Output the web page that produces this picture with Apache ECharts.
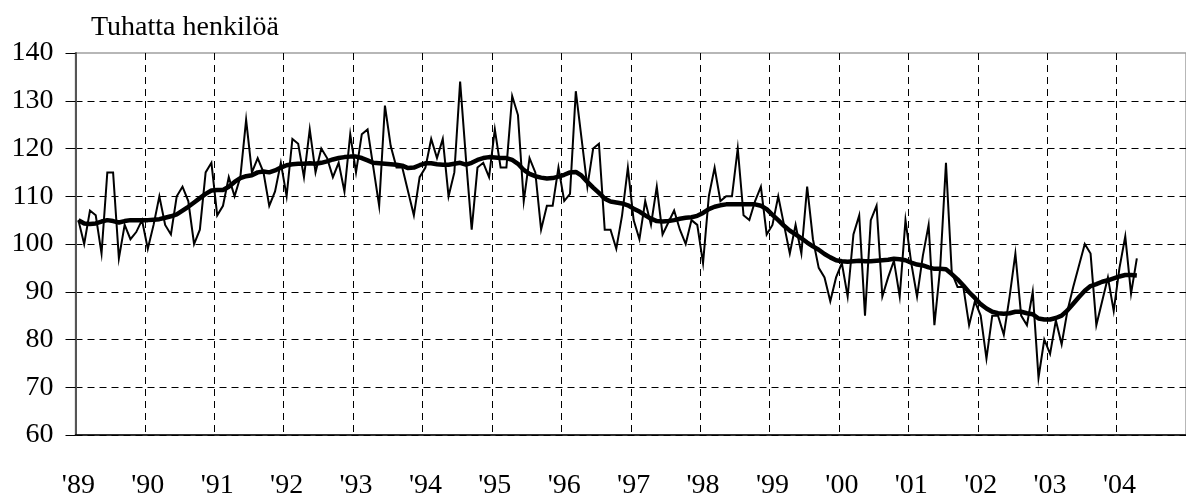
<!DOCTYPE html>
<html>
<head>
<meta charset="utf-8">
<script src="https://cdn.jsdelivr.net/npm/echarts@6/dist/echarts.min.js"></script>
<style>
html, body { margin: 0; padding: 0; background: #fff; }
#chart { width: 1186px; height: 500px; }
</style>
</head>
<body>
<div id="chart"></div>
<script>
// year tick labels (one category per month, labels on January)
var years = ["'89", "'90", "'91", "'92", "'93", "'94", "'95", "'96",
             "'97", "'98", "'99", "'00", "'01", "'02", "'03", "'04"];

// monthly figures, 1/1989 - 4/2004 (thousand persons)
var original = [
  105, 100, 107, 106, 98, 115, 115, 97, 104, 101, 102.5, 105,
  99, 104, 110, 104, 102, 110, 112, 109, 100, 103, 115, 117,
  106, 108, 114, 110, 114, 126, 115, 118, 115, 108, 111, 117,
  110, 122, 121, 114, 124, 115, 120, 118, 114, 117, 111, 123,
  115, 123, 124, 116, 108, 129, 120.5, 116, 116, 111, 106, 114,
  116, 122, 118, 122, 110, 115, 134, 118, 103, 116, 117, 114,
  124, 116, 116, 131, 127, 109, 118, 115, 103, 108, 108, 116,
  109, 110.5, 132, 122, 112, 120, 121, 103, 103, 99, 106, 116,
  105, 101, 109, 104, 112, 102, 104.5, 107, 103, 100, 105, 104,
  96, 110, 116, 109, 110, 110, 120, 106, 105, 109, 112, 102,
  104, 110, 104, 98, 104, 98, 112, 101, 95, 93, 88, 93,
  96, 89, 102, 106, 85, 105, 108, 89, 93, 96.5, 89, 105,
  96, 89, 97.5, 104, 83, 95, 117, 94, 91, 91, 83, 88,
  85, 76, 85, 85, 81, 89, 98, 85, 83, 90, 72, 80,
  77, 84, 79, 86, 91, 95.5, 100, 98, 83, 88, 93, 86,
  95, 101.6, 89.6, 97
];

// trend
var trend = [
  105, 104.3, 104.2, 104.3, 104.7, 105, 104.8, 104.5, 104.8, 105, 105, 105,
  105, 105.1, 105.2, 105.5, 105.8, 106.2, 107, 107.8, 108.7, 109.6, 110.5, 111.2,
  111.3, 111.3, 112, 113, 113.8, 114.2, 114.4, 115, 115.2, 115, 115.4, 116,
  116.5, 116.7, 116.8, 116.8, 116.9, 116.8, 117, 117.3, 117.7, 118, 118.2, 118.3,
  118.3, 118, 117.5, 117, 116.9, 116.8, 116.7, 116.6, 116.4, 115.9, 116, 116.5,
  116.9, 116.9, 116.7, 116.6, 116.6, 116.8, 117, 116.6, 117, 117.6, 118, 118.2,
  118.1, 118, 118, 117.6, 116.8, 115.5, 114.7, 114.2, 113.9, 113.7, 113.8, 114.1,
  114.5, 115, 115.1, 114.3, 113, 111.8, 110.7, 109.5, 108.9, 108.7, 108.5, 108.1,
  107.4, 106.8, 106, 105.3, 104.8, 104.7, 104.8, 105, 105.3, 105.5, 105.6, 105.9,
  106.5, 107.3, 107.8, 108.1, 108.3, 108.3, 108.3, 108.3, 108.3, 108.3, 108, 107.3,
  106.1, 105, 103.8, 102.8, 102, 101.2, 100.3, 99.5, 98.8, 97.9, 97.2, 96.6,
  96.4, 96.3, 96.4, 96.5, 96.4, 96.4, 96.5, 96.6, 96.7, 96.9, 96.8, 96.6,
  96.1, 95.7, 95.5, 95.1, 94.8, 94.8, 94.7, 93.7, 92.6, 91.3, 89.9, 88.7,
  87.4, 86.5, 85.8, 85.5, 85.4, 85.5, 85.8, 85.8, 85.5, 85.3, 84.4, 84.2,
  84.2, 84.5, 85, 86.1, 87.5, 88.9, 90.2, 91.2, 91.6, 92.1, 92.4, 92.8,
  93.2, 93.5, 93.5, 93.4
];

var months = [];
years.forEach(function (y) {
  for (var m = 1; m <= 12; m++) months.push(y + '-' + m);
});

var font = "'Liberation Serif', 'Times New Roman', serif";
var dash = [7, 5];

var myChart = echarts.init(document.getElementById('chart'));

var option = {
  animation: false,
  title: {
    text: 'Tuhatta henkilöä',
    left: 86,
    top: 9,
    textStyle: { fontFamily: font, fontSize: 28, fontWeight: 'normal', color: '#000' }
  },
  grid: {
    left: 75.5,
    top: 53,
    width: 1113.5,
    height: 384,
    show: true,
    borderColor: '#a0a0a0',
    borderWidth: 1.5
  },
  xAxis: {
    type: 'category',
    data: months,
    boundaryGap: true,
    axisLine: { lineStyle: { color: '#000', width: 1.5 } },
    axisTick: { interval: 11, length: 10, lineStyle: { color: '#000' } },
    axisLabel: {
      interval: 11,
      margin: 37,
      color: '#000',
      fontFamily: font,
      fontSize: 28,
      formatter: function (v) { return v.split('-')[0]; }
    },
    splitLine: { show: true, interval: 11, lineStyle: { color: '#000', type: dash } }
  },
  yAxis: {
    type: 'value',
    min: 60,
    max: 140,
    interval: 10,
    axisLine: { show: true, lineStyle: { color: '#555', width: 2 } },
    axisTick: { show: true, length: 10, lineStyle: { color: '#000' } },
    axisLabel: { margin: 22, color: '#000', fontFamily: font, fontSize: 28 },
    splitLine: {
      lineStyle: {
        color: ['#000', '#000', '#000', '#000', '#000', '#000', '#000', '#000', 'transparent'],
        type: dash
      }
    }
  },
  series: [
    {
      name: 'alkuperäinen',
      type: 'line',
      data: original,
      symbol: 'none',
      lineStyle: { color: '#000', width: 2, join: 'miter' },
      z: 3
    },
    {
      name: 'trendi',
      type: 'line',
      data: trend,
      symbol: 'none',
      lineStyle: { color: '#000', width: 4.5 },
      z: 4
    }
  ]
};

myChart.setOption(option);
</script>
</body>
</html>
